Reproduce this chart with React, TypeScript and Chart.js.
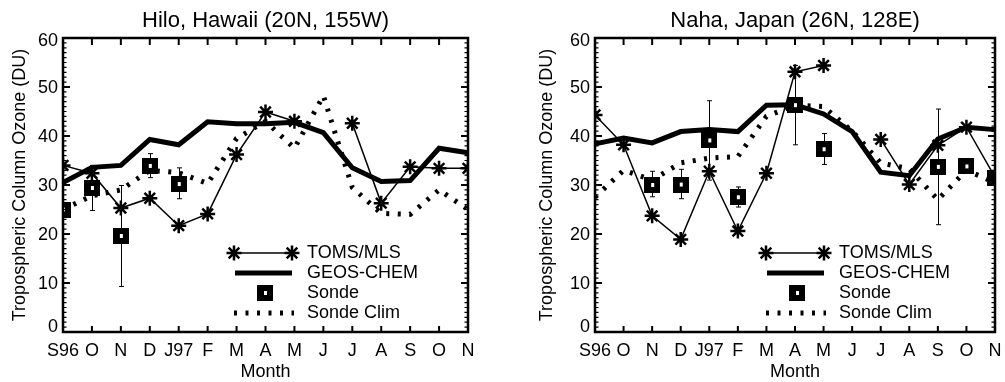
import React, { useEffect, useRef } from 'react';
import { Chart, registerables } from 'chart.js';

Chart.register(...registerables);

const FONT = '"Liberation Sans", Arial, Helvetica, sans-serif';

const months = ['S96', 'O', 'N', 'D', 'J97', 'F', 'M', 'A', 'M', 'J', 'J', 'A', 'S', 'O', 'N'];
const yTicks = [0, 10, 20, 30, 40, 50, 60];

// Hilo, Hawaii
const hiloToms = [34.0, 32.4, 25.3, 27.3, 21.7, 24.1, 36.2, 44.9, 43.0, null, 42.6, 26.3, 33.7, 33.4, 33.4];
const hiloGeos = [30.5, 33.6, 34.0, 39.3, 38.2, 42.9, 42.5, 42.5, 42.8, 40.7, 33.5, 30.7, 30.9, 37.5, 36.6];
const hiloSonde = [25.0, 29.4, 19.6, 33.9, 30.2, null, null, null, null, null, null, null, null, null, null];
const hiloSondeLow = [null, 24.8, 9.3, 31.5, 27.2, null, null, null, null, null, null, null, null, null, null];
const hiloSondeHigh = [null, 34.0, 29.9, 36.4, 33.5, null, null, null, null, null, null, null, null, null, null];
const hiloClim = [25.0, 27.8, 29.0, 33.0, 32.5, 30.3, 39.5, 43.0, 37.5, 48.2, 29.5, 24.2, 24.0, 29.0, 25.0];

// Naha, Japan
const nahaToms = [44.3, 38.2, 23.7, 18.9, 32.8, 20.6, 32.4, 53.1, 54.4, null, 39.3, 30.1, 38.1, 41.8, 31.6];
const nahaGeos = [38.4, 39.6, 38.6, 40.9, 41.3, 40.9, 46.3, 46.4, 44.5, 40.9, 32.6, 31.9, 39.4, 41.8, 41.3];
const nahaSonde = [null, null, 30.0, 30.1, 39.1, 27.5, null, 46.3, 37.3, null, null, null, 33.7, 33.8, 31.5];
const nahaSondeLow = [null, null, 27.6, 27.2, 31.0, 25.5, null, 38.2, 34.2, null, null, null, 21.9, 32.6, null];
const nahaSondeHigh = [null, null, 32.8, 33.2, 47.2, 29.6, null, 54.4, 40.5, null, null, null, 45.5, 35.1, null];
const nahaClim = [27.5, 33.0, 31.0, 34.5, 35.5, 35.8, 44.0, 46.3, 46.0, 41.0, 34.5, 33.3, 27.0, 33.0, 30.5];

const legendLabels = ['TOMS/MLS', 'GEOS-CHEM', 'Sonde', 'Sonde Clim'];

function makeSquare(): HTMLCanvasElement {
  const c = document.createElement('canvas');
  c.width = 16;
  c.height = 16;
  const g = c.getContext('2d')!;
  g.fillStyle = '#000';
  g.fillRect(0, 0, 16, 16);
  g.fillStyle = '#fff';
  g.fillRect(7, 6, 3, 4);
  return c;
}

function drawStar(ctx: CanvasRenderingContext2D, x: number, y: number, r: number) {
  ctx.beginPath();
  for (let k = 0; k < 4; k++) {
    const ang = (k * Math.PI) / 4;
    const dx = Math.cos(ang) * r;
    const dy = Math.sin(ang) * r;
    ctx.moveTo(x - dx, y - dy);
    ctx.lineTo(x + dx, y + dy);
  }
  ctx.stroke();
}

interface PanelProps {
  width: number;
  title: string;
  toms: (number | null)[];
  geos: (number | null)[];
  sonde: (number | null)[];
  sondeLow: (number | null)[];
  sondeHigh: (number | null)[];
  clim: (number | null)[];
  padLeft: number;
  padRight: number;
  yTitleX: number;
}

function Panel(props: PanelProps) {
  const ref = useRef<HTMLCanvasElement | null>(null);
  useEffect(() => {
    const canvas = ref.current;
    if (!canvas) return;
    const square = makeSquare();

    const errorBars = {
      id: 'errorBars',
      beforeDatasetsDraw(chart: any) {
        const { ctx, chartArea: a, scales } = chart;
        const xs = scales.x;
        const ys = scales.y;
        ctx.save();
        ctx.beginPath();
        ctx.rect(a.left, a.top, a.right - a.left, a.bottom - a.top);
        ctx.clip();
        ctx.strokeStyle = '#000';
        ctx.lineWidth = 1;
        props.sondeLow.forEach((lo, i) => {
          const hi = props.sondeHigh[i];
          if (lo == null || hi == null) return;
          const px = Math.round(xs.getPixelForValue(i)) + 0.5;
          const p1 = ys.getPixelForValue(lo);
          const p2 = ys.getPixelForValue(hi);
          ctx.beginPath();
          ctx.moveTo(px, p1);
          ctx.lineTo(px, p2);
          ctx.moveTo(px - 2.5, p1);
          ctx.lineTo(px + 2.5, p1);
          ctx.moveTo(px - 2.5, p2);
          ctx.lineTo(px + 2.5, p2);
          ctx.stroke();
        });
        ctx.restore();
      },
    };

    const decor = {
      id: 'decor',
      afterDraw(chart: any) {
        const { ctx, chartArea: a, scales } = chart;
        const xs = scales.x;
        const ys = scales.y;
        ctx.save();
        ctx.strokeStyle = '#000';
        ctx.fillStyle = '#000';
        // minor y ticks
        ctx.lineWidth = 1.2;
        ctx.beginPath();
        for (let v = 1; v < 60; v++) {
          if (v % 10 === 0) continue;
          const py = ys.getPixelForValue(v);
          ctx.moveTo(a.left, py);
          ctx.lineTo(a.left + 3.5, py);
          ctx.moveTo(a.right, py);
          ctx.lineTo(a.right - 3.5, py);
        }
        ctx.stroke();
        // major y ticks
        ctx.lineWidth = 2;
        ctx.beginPath();
        yTicks.forEach((v) => {
          const py = ys.getPixelForValue(v);
          ctx.moveTo(a.left, py);
          ctx.lineTo(a.left + 7, py);
          ctx.moveTo(a.right, py);
          ctx.lineTo(a.right - 7, py);
        });
        // x ticks
        months.forEach((_, i) => {
          const px = xs.getPixelForValue(i);
          ctx.moveTo(px, a.bottom);
          ctx.lineTo(px, a.bottom - 6);
          ctx.moveTo(px, a.top);
          ctx.lineTo(px, a.top + 7);
        });
        ctx.stroke();
        // frame
        ctx.lineWidth = 2.5;
        ctx.strokeRect(a.left, a.top, a.right - a.left, a.bottom - a.top);

        // y tick labels
        ctx.font = `18px ${FONT}`;
        ctx.textAlign = 'right';
        ctx.textBaseline = 'middle';
        yTicks.forEach((v) => {
          const py = ys.getPixelForValue(v);
          const adj = v === 0 ? -5 : v === 60 ? 3 : 1;
          ctx.fillText(String(v), a.left - 5, py + adj);
        });
        // x tick labels
        ctx.textAlign = 'center';
        ctx.textBaseline = 'alphabetic';
        months.forEach((m, i) => {
          ctx.fillText(m, xs.getPixelForValue(i), a.bottom + 24);
        });
        const cx = (a.left + a.right) / 2;
        ctx.fillText('Month', cx, a.bottom + 45);
        // title
        ctx.font = `22px ${FONT}`;
        ctx.fillText(props.title, cx, 27);
        // y title
        ctx.save();
        ctx.font = `18px ${FONT}`;
        ctx.translate(props.yTitleX, (a.top + a.bottom) / 2);
        ctx.rotate(-Math.PI / 2);
        ctx.textBaseline = 'middle';
        ctx.fillText('Tropospheric Column Ozone (DU)', 0, 0);
        ctx.restore();

        // legend
        const lx1 = a.left + 171;
        const lx2 = a.left + 229;
        const tx = a.left + 244;
        const rows = [253, 273, 293, 313];
        ctx.lineWidth = 1.5;
        ctx.beginPath();
        ctx.moveTo(lx1, rows[0]);
        ctx.lineTo(lx2, rows[0]);
        ctx.stroke();
        ctx.lineWidth = 2.5;
        drawStar(ctx, lx1, rows[0], 7.5);
        drawStar(ctx, lx2, rows[0], 7.5);
        ctx.lineWidth = 5;
        ctx.lineCap = 'butt';
        ctx.beginPath();
        ctx.moveTo(lx1 + 1, rows[1]);
        ctx.lineTo(lx2, rows[1]);
        ctx.stroke();
        ctx.drawImage(square, Math.round(a.left + 202 - 8), rows[2] - 8);
        ctx.setLineDash([3, 8.5]);
        ctx.beginPath();
        ctx.moveTo(lx1, rows[3]);
        ctx.lineTo(lx2 + 2, rows[3]);
        ctx.stroke();
        ctx.setLineDash([]);
        ctx.font = `18px ${FONT}`;
        ctx.textAlign = 'left';
        ctx.textBaseline = 'middle';
        legendLabels.forEach((t, i) => ctx.fillText(t, tx, rows[i]));
        ctx.restore();
      },
    };

    const chart = new Chart(canvas, {
      type: 'line',
      data: {
        labels: months,
        datasets: [
          {
            label: 'TOMS/MLS',
            data: props.toms,
            order: 0,
            borderColor: '#000',
            borderWidth: 1.5,
            pointStyle: 'star',
            pointRadius: 7.5,
            pointBorderWidth: 2.5,
            pointBorderColor: '#000',
            pointBackgroundColor: '#000',
            spanGaps: false,
            tension: 0,
            clip: 1,
          },
          {
            label: 'Sonde',
            data: props.sonde,
            order: 1,
            showLine: false,
            pointStyle: square,
            pointRadius: 8,
            borderColor: '#000',
            clip: 1,
          },
          {
            label: 'GEOS-CHEM',
            data: props.geos,
            order: 2,
            borderColor: '#000',
            borderWidth: 5,
            pointRadius: 0,
            tension: 0,
            clip: 1,
          },
          {
            label: 'Sonde Clim',
            data: props.clim,
            order: 3,
            borderColor: '#000',
            borderWidth: 5,
            borderDash: [3, 8.5],
            borderCapStyle: 'butt',
            pointRadius: 0,
            tension: 0,
            clip: 1,
          },
        ] as any,
      },
      options: {
        animation: false,
        responsive: false,
        maintainAspectRatio: false,
        devicePixelRatio: 1,
        events: [],
        layout: { padding: { left: props.padLeft, right: props.padRight, top: 38, bottom: 50 } },
        plugins: { legend: { display: false }, title: { display: false }, tooltip: { enabled: false } },
        scales: {
          x: { type: 'category', display: false, offset: false },
          y: { type: 'linear', display: false, min: 0, max: 60 },
        },
      },
      plugins: [errorBars, decor],
    } as any);
    return () => chart.destroy();
  }, []);
  return <canvas ref={ref} width={props.width} height={382} style={{ display: 'block', width: props.width, height: 382 }} />;
}

export default function App() {
  return (
    <div style={{ position: 'absolute', left: 0, top: 0, width: 1005, height: 382, display: 'flex', background: '#fff' }}>
      <Panel
        width={502}
        title="Hilo, Hawaii (20N, 155W)"
        toms={hiloToms}
        geos={hiloGeos}
        sonde={hiloSonde}
        sondeLow={hiloSondeLow}
        sondeHigh={hiloSondeHigh}
        clim={hiloClim}
        padLeft={63}
        padRight={34}
        yTitleX={20}
      />
      <Panel
        width={503}
        title="Naha, Japan (26N, 128E)"
        toms={nahaToms}
        geos={nahaGeos}
        sonde={nahaSonde}
        sondeLow={nahaSondeLow}
        sondeHigh={nahaSondeHigh}
        clim={nahaClim}
        padLeft={93}
        padRight={8}
        yTitleX={45.5}
      />
    </div>
  );
}
